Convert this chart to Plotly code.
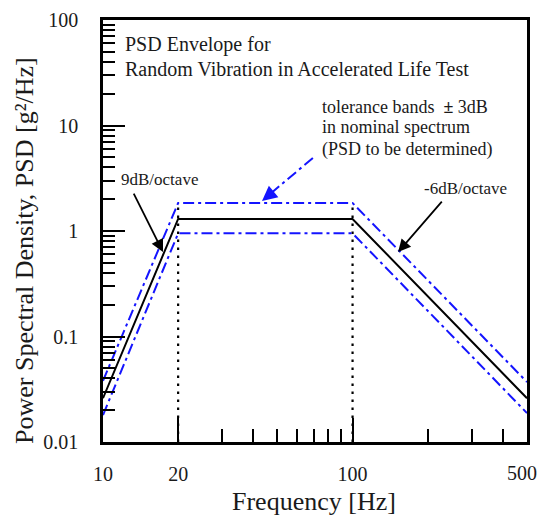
import plotly.graph_objects as go
import numpy as np

# ---- data ----
freq = [10, 20, 100, 500]
psd_nominal = [0.026, 1.3, 1.3, 0.026]
psd_upper = [0.038, 1.84, 1.84, 0.037]
psd_lower = [0.018, 0.95, 0.95, 0.0188]

corner_freqs = [20, 100]
y_floor = 0.01

x_tickvals = [10, 20, 100, 500]
x_ticktext = ["10", "20", "100", ""]   # "500" is placed as an annotation at the edge
x_end_label = "500"
x_minor = [30, 40, 50, 60, 70, 80, 90, 200, 300, 400]
y_tickvals = [0.01, 0.1, 1, 10, 100]
y_ticktext = ["0.01", "0.1", "1", "10", "100"]
y_minor = [m * d for d in [0.01, 0.1, 1, 10] for m in range(2, 10)]

FONT = "Liberation Serif, Times New Roman, serif"
TXT = "#1a1a1a"
BLUE = "#1414ff"

fig = go.Figure()

# dotted vertical lines at the corner frequencies
for cf in corner_freqs:
    i = freq.index(cf)
    fig.add_trace(go.Scatter(x=[cf, cf], y=[y_floor, psd_upper[i]], mode="lines",
                             line=dict(color="black", width=2.2, dash="2.5px,5.5px"),
                             hoverinfo="skip", showlegend=False))

fig.add_trace(go.Scatter(x=freq, y=psd_upper, mode="lines",
                         line=dict(color=BLUE, width=2, dash="11px,4px,3px,4px"),
                         showlegend=False))
fig.add_trace(go.Scatter(x=freq, y=psd_lower, mode="lines",
                         line=dict(color=BLUE, width=2, dash="11px,4px,3px,4px"),
                         showlegend=False))
fig.add_trace(go.Scatter(x=freq, y=psd_nominal, mode="lines",
                         line=dict(color="black", width=2),
                         showlegend=False))

axis_common = dict(
    showline=True, linecolor="black", linewidth=2.5, mirror=True,
    showgrid=False, zeroline=False, automargin=False,
    ticks="inside", tickcolor="black", tickwidth=2,
    ticklabeloverflow="allow",
    tickfont=dict(family=FONT, size=20, color=TXT),
)

fig.update_xaxes(type="log", range=[1, np.log10(500)],
                 tickmode="array", tickvals=x_tickvals, ticktext=x_ticktext,
                 ticklen=24, ticklabelstandoff=12,
                 minor=dict(tickmode="array", tickvals=x_minor, ticks="inside",
                            ticklen=13, tickwidth=2, tickcolor="black", showgrid=False),
                 **axis_common)
fig.update_yaxes(type="log", range=[-2, 2],
                 tickmode="array", tickvals=y_tickvals, ticktext=y_ticktext,
                 ticklen=22, ticklabelstandoff=18,
                 minor=dict(tickmode="array", tickvals=y_minor, ticks="inside",
                            ticklen=12, tickwidth=2, tickcolor="black", showgrid=False),
                 **axis_common)

def txt(s, x, y, size, xanchor="left", angle=0):
    fig.add_annotation(text=s, x=x, y=y, xref="paper", yref="paper",
                       xanchor=xanchor, yanchor="middle", showarrow=False,
                       textangle=angle,
                       font=dict(family=FONT, size=size, color=TXT))

txt("PSD Envelope for", 0.047, 0.941, 20)
txt("Random Vibration in Accelerated Life Test", 0.047, 0.884, 20)
txt("tolerance bands\u00a0\u00a0<b>±</b> 3dB", 0.512, 0.794, 18)
txt("in nominal spectrum", 0.512, 0.746, 18)
txt("(PSD to be determined)", 0.512, 0.694, 18)
txt("9dB/octave", 0.038, 0.621, 17)
txt("-6dB/octave", 0.752, 0.600, 17)
txt(x_end_label, 0.988, -0.074, 20, xanchor="center")

# axis titles
txt("Frequency [Hz]", 0.498, -0.14, 26, xanchor="center")
txt("Power Spectral Density, PSD [g²/Hz]", -0.184, 0.455, 26, xanchor="center", angle=-90)

# black arrows
for (x, y, ax, ay) in [(0.1415, 0.450, -30, -60), (0.696, 0.450, 45, -52)]:
    fig.add_annotation(x=x, y=y, xref="paper", yref="paper", ax=ax, ay=ay,
                       text="", showarrow=True, arrowhead=2, arrowsize=1.4,
                       arrowwidth=1.8, arrowcolor="black", standoff=0)

# blue dash-dot arrow
fig.add_shape(type="line", xref="paper", yref="paper",
              x0=0.495, y0=0.673, x1=0.399, y1=0.592,
              line=dict(color=BLUE, width=2, dash="11px,4px,3px,4px"))
fig.add_annotation(x=0.375, y=0.571, xref="paper", yref="paper", ax=11, ay=-9,
                   text="", showarrow=True, arrowhead=2, arrowsize=1.5,
                   arrowwidth=2, arrowcolor=BLUE, standoff=0)

fig.update_layout(
    width=541, height=518,
    margin=dict(l=103, r=14, t=20, b=76, autoexpand=False),
    paper_bgcolor="white", plot_bgcolor="white",
    showlegend=False,
)

fig.write_html("out.html", config={"displayModeBar": False},
               post_script="document.body.style.margin='0px';document.body.style.overflow='hidden';")
